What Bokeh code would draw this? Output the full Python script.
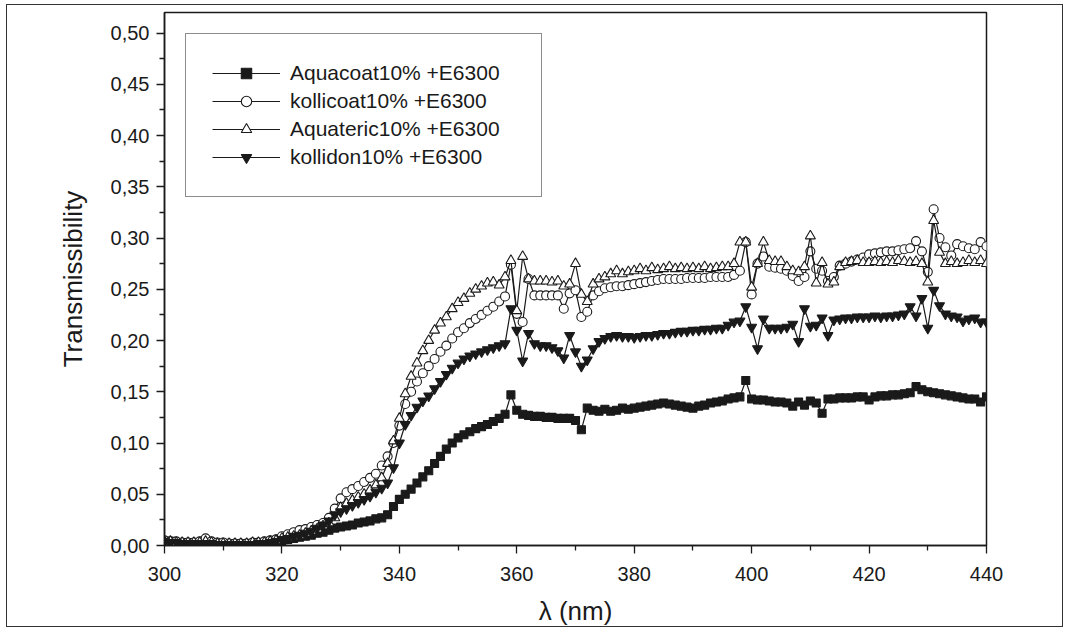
from bokeh.plotting import figure
from bokeh.models import Range1d, FixedTicker, CustomJSTickFormatter
from bokeh.embed import file_html
from bokeh.resources import INLINE

wavelength = list(range(300, 441))

aquacoat = [
    0.004, 0.004, 0.003, 0.003, 0.003, 0.002, 0.002, 0.003, 0.002, 0.002,
    0.002, 0.002, 0.002, 0.002, 0.002, 0.002, 0.003, 0.003, 0.003, 0.004,
    0.005, 0.006, 0.007, 0.008, 0.009, 0.010, 0.012, 0.013, 0.015, 0.017,
    0.018, 0.019, 0.020, 0.022, 0.023, 0.024, 0.026, 0.027, 0.030, 0.038,
    0.045, 0.050, 0.055, 0.061, 0.067, 0.073, 0.080, 0.087, 0.094, 0.100,
    0.105, 0.108, 0.111, 0.114, 0.116, 0.118, 0.121, 0.124, 0.128, 0.147,
    0.132, 0.128, 0.127, 0.126, 0.126, 0.125, 0.125, 0.124, 0.124, 0.124,
    0.122, 0.113, 0.134, 0.132, 0.131, 0.133, 0.131, 0.132, 0.134, 0.133,
    0.134, 0.135, 0.136, 0.137, 0.138, 0.139, 0.138, 0.137, 0.136, 0.135,
    0.134, 0.136, 0.137, 0.139, 0.140, 0.141, 0.143, 0.144, 0.145, 0.161,
    0.143, 0.142, 0.142, 0.141, 0.140, 0.140, 0.139, 0.136, 0.140, 0.137,
    0.141, 0.139, 0.129, 0.143, 0.143, 0.144, 0.144, 0.144, 0.145, 0.145,
    0.142, 0.145, 0.146, 0.146, 0.147, 0.147, 0.148, 0.149, 0.155, 0.152,
    0.150, 0.149, 0.148, 0.147, 0.146, 0.145, 0.144, 0.143, 0.143, 0.140, 0.145,
]

kollicoat = [
    0.005, 0.004, 0.004, 0.003, 0.003, 0.003, 0.004, 0.007, 0.004, 0.003,
    0.003, 0.002, 0.002, 0.002, 0.002, 0.003, 0.003, 0.004, 0.005, 0.006,
    0.009, 0.011, 0.013, 0.015, 0.016, 0.018, 0.020, 0.022, 0.027, 0.036,
    0.046, 0.052, 0.055, 0.058, 0.062, 0.066, 0.070, 0.078, 0.087, 0.100,
    0.117, 0.138, 0.150, 0.160, 0.168, 0.175, 0.182, 0.189, 0.195, 0.202,
    0.208, 0.212, 0.217, 0.221, 0.225, 0.229, 0.233, 0.238, 0.243, 0.274,
    0.226, 0.218, 0.260, 0.244, 0.244, 0.244, 0.244, 0.244, 0.231, 0.246,
    0.249, 0.223, 0.228, 0.244, 0.248, 0.251, 0.252, 0.253, 0.253, 0.254,
    0.255, 0.256, 0.257, 0.258, 0.259, 0.260, 0.260, 0.260, 0.260, 0.261,
    0.261, 0.261, 0.261, 0.262, 0.262, 0.262, 0.262, 0.264, 0.268, 0.296,
    0.245, 0.275, 0.282, 0.272, 0.271, 0.270, 0.268, 0.263, 0.258, 0.262,
    0.287, 0.270, 0.268, 0.258, 0.262, 0.273, 0.275, 0.277, 0.279, 0.281,
    0.284, 0.285, 0.286, 0.287, 0.287, 0.288, 0.289, 0.290, 0.297, 0.287,
    0.267, 0.328, 0.300, 0.291, 0.283, 0.294, 0.292, 0.290, 0.289, 0.296, 0.292,
]

aquateric = [
    0.004, 0.004, 0.003, 0.003, 0.003, 0.003, 0.003, 0.004, 0.003, 0.002,
    0.002, 0.002, 0.002, 0.002, 0.002, 0.003, 0.003, 0.003, 0.004, 0.005,
    0.007, 0.008, 0.009, 0.010, 0.012, 0.014, 0.016, 0.019, 0.022, 0.027,
    0.037, 0.041, 0.044, 0.047, 0.050, 0.054, 0.059, 0.066, 0.080, 0.102,
    0.124, 0.148, 0.165, 0.178, 0.190, 0.200, 0.210, 0.217, 0.223, 0.231,
    0.237, 0.241, 0.246, 0.250, 0.253, 0.256, 0.257, 0.254, 0.262, 0.278,
    0.229, 0.282, 0.260, 0.258, 0.258, 0.258, 0.257, 0.258, 0.253, 0.255,
    0.275, 0.245, 0.238, 0.255, 0.260, 0.262, 0.265, 0.268, 0.265, 0.267,
    0.268, 0.270, 0.268, 0.271, 0.269, 0.270, 0.272, 0.270, 0.271, 0.270,
    0.271, 0.270, 0.272, 0.270, 0.271, 0.272, 0.272, 0.275, 0.296, 0.296,
    0.252, 0.275, 0.296, 0.278, 0.277, 0.277, 0.272, 0.268, 0.267, 0.272,
    0.302, 0.256, 0.276, 0.255, 0.257, 0.272, 0.276, 0.277, 0.278, 0.276,
    0.276, 0.277, 0.276, 0.277, 0.276, 0.278, 0.277, 0.276, 0.277, 0.275,
    0.257, 0.317, 0.286, 0.275, 0.277, 0.275, 0.276, 0.278, 0.276, 0.278, 0.275,
]

kollidon = [
    0.004, 0.003, 0.003, 0.002, 0.002, 0.002, 0.002, 0.002, 0.002, 0.001,
    0.001, 0.001, 0.001, 0.001, 0.001, 0.001, 0.002, 0.002, 0.003, 0.004,
    0.006, 0.007, 0.009, 0.010, 0.012, 0.014, 0.017, 0.020, 0.024, 0.030,
    0.033, 0.036, 0.039, 0.042, 0.045, 0.048, 0.052, 0.056, 0.061, 0.076,
    0.100, 0.118, 0.127, 0.135, 0.141, 0.146, 0.153, 0.160, 0.167, 0.173,
    0.178, 0.182, 0.185, 0.187, 0.189, 0.191, 0.193, 0.195, 0.197, 0.231,
    0.210, 0.180, 0.207, 0.197, 0.195, 0.195, 0.193, 0.190, 0.183, 0.205,
    0.189, 0.175, 0.181, 0.192, 0.199, 0.202, 0.204, 0.205, 0.204, 0.204,
    0.203, 0.204, 0.205, 0.205, 0.206, 0.207, 0.207, 0.208, 0.209, 0.209,
    0.210, 0.210, 0.211, 0.211, 0.212, 0.212, 0.215, 0.218, 0.219, 0.233,
    0.213, 0.192, 0.221, 0.212, 0.212, 0.212, 0.213, 0.216, 0.199, 0.231,
    0.214, 0.215, 0.222, 0.205, 0.220, 0.221, 0.222, 0.222, 0.223, 0.223,
    0.223, 0.224, 0.223, 0.224, 0.224, 0.225, 0.226, 0.233, 0.224, 0.241,
    0.212, 0.249, 0.234, 0.226, 0.224, 0.223, 0.219, 0.221, 0.222, 0.218, 0.218,
]

series_labels = ["Aquacoat10% +E6300", "kollicoat10% +E6300",
                 "Aquateric10% +E6300", "kollidon10% +E6300"]

y_ticks = [0.0, 0.05, 0.1, 0.15, 0.2, 0.25, 0.3, 0.35, 0.4, 0.45, 0.5]
y_tick_labels = ["0,00", "0,05", "0,10", "0,15", "0,20", "0,25",
                 "0,30", "0,35", "0,40", "0,45", "0,50"]
y_minor = [0.025, 0.075, 0.125, 0.175, 0.225, 0.275, 0.325, 0.375, 0.425, 0.475]
x_ticks = [300, 320, 340, 360, 380, 400, 420, 440]
x_minor = [310, 330, 350, 370, 390, 410, 430]

FONT = "Liberation Sans"
INK = "#1a1a1a"

p = figure(width=1057, height=623,
           x_range=Range1d(300, 440), y_range=Range1d(0, 0.52),
           output_backend="svg", toolbar_location=None,
           min_border_left=157, min_border_right=78,
           min_border_top=7, min_border_bottom=81,
           x_axis_label="λ (nm)", y_axis_label="Transmissibility")
p.margin = (4, 0, 0, 6)
p.styles = {"border": "1px solid #333"}
p.background_fill_color = "white"
p.border_fill_color = "white"
p.xgrid.visible = False
p.ygrid.visible = False
p.outline_line_color = INK
p.outline_line_width = 1.5

p.yaxis.ticker = FixedTicker(ticks=y_ticks, minor_ticks=y_minor)
p.yaxis.formatter = CustomJSTickFormatter(
    args=dict(tv=y_ticks, tl=y_tick_labels),
    code="const i = tv.findIndex(t => Math.abs(t - tick) < 1e-9); return i >= 0 ? tl[i] : '';")
p.xaxis.ticker = FixedTicker(ticks=x_ticks, minor_ticks=x_minor)

for ax in (p.xaxis[0], p.yaxis[0]):
    ax.axis_line_color = INK
    ax.axis_line_width = 1.5
    ax.major_tick_line_color = INK
    ax.minor_tick_line_color = INK
    ax.major_tick_line_width = 1.3
    ax.minor_tick_line_width = 1.3
    ax.major_tick_out = 8
    ax.major_tick_in = 0
    ax.minor_tick_out = 5
    ax.minor_tick_in = 0
    ax.major_label_text_font = FONT
    ax.major_label_text_font_size = "20px"
    ax.major_label_text_color = INK
    ax.axis_label_text_font = FONT
    ax.axis_label_text_font_size = "26px"
    ax.axis_label_text_font_style = "normal"
    ax.axis_label_text_color = INK

p.xaxis.major_label_standoff = 13
p.xaxis.axis_label_standoff = 12
p.yaxis.major_label_standoff = 7
p.yaxis.axis_label_standoff = 20

styles = [
    dict(marker="square", size=8, fill_color=INK),
    dict(marker="circle", size=9, fill_color="white"),
    dict(marker="triangle", size=10, fill_color="white"),
    dict(marker="inverted_triangle", size=10, fill_color=INK),
]
data = [aquacoat, kollicoat, aquateric, kollidon]

for ys, lab, st in zip(data, series_labels, styles):
    p.line(wavelength, ys, line_color=INK, line_width=1.2, legend_label=lab)
    p.scatter(wavelength, ys, marker=st["marker"], size=st["size"],
              fill_color=st["fill_color"], line_color=INK, line_width=1.1,
              legend_label=lab)

lg = p.legend[0]
lg.location = "top_left"
lg.margin = 21
lg.padding = 26
lg.spacing = 2
lg.glyph_width = 68
lg.glyph_height = 26
lg.label_height = 26
lg.label_width = 225
lg.label_standoff = 10
lg.label_text_font = FONT
lg.label_text_font_size = "21px"
lg.label_text_color = INK
lg.border_line_color = INK
lg.border_line_width = 1.5
lg.background_fill_color = "white"
lg.background_fill_alpha = 1

open("out.html", "w").write(file_html(p, INLINE))
